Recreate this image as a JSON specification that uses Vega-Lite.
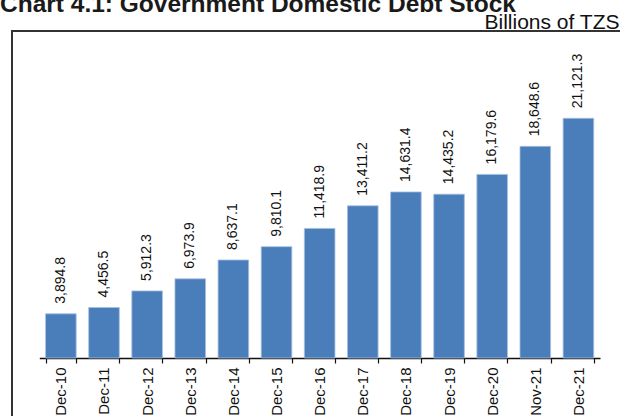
{
  "$schema": "https://vega.github.io/schema/vega-lite/v6.json",
  "autosize": {"type": "none"},
  "padding": {"left": 12, "top": 31, "right": 0, "bottom": 0},
  "width": 610,
  "height": 400,
  "background": "white",
  "title": {
    "text": "Chart 4.1: Government Domestic Debt Stock",
    "anchor": "start",
    "frame": "group",
    "dx": -12,
    "dy": 25,
    "offset": 0,
    "baseline": "alphabetic",
    "font": "Liberation Sans",
    "fontSize": 24.5,
    "fontWeight": "bold",
    "color": "#1a1a1a"
  },
  "config": {
    "view": {"stroke": "#333333", "strokeWidth": 2},
    "font": "Liberation Sans"
  },
  "data": {
    "values": [
      {"period": "Dec-10", "debt": 3894.8},
      {"period": "Dec-11", "debt": 4456.5},
      {"period": "Dec-12", "debt": 5912.3},
      {"period": "Dec-13", "debt": 6973.9},
      {"period": "Dec-14", "debt": 8637.1},
      {"period": "Dec-15", "debt": 9810.1},
      {"period": "Dec-16", "debt": 11418.9},
      {"period": "Dec-17", "debt": 13411.2},
      {"period": "Dec-18", "debt": 14631.4},
      {"period": "Dec-19", "debt": 14435.2},
      {"period": "Dec-20", "debt": 16179.6},
      {"period": "Nov-21", "debt": 18648.6},
      {"period": "Dec-21", "debt": 21121.3}
    ]
  },
  "encoding": {
    "x": {
      "field": "period",
      "type": "nominal",
      "sort": null,
      "scale": {"range": [27.3, 588], "paddingInner": 0.29, "paddingOuter": 0.145},
      "axis": {
        "title": null,
        "orient": "bottom",
        "offset": -73,
        "labelAngle": 270,
        "labelFont": "Liberation Sans",
        "labelFontSize": 15,
        "labelColor": "#111111",
        "labelPadding": 4,
        "tickSize": 5,
        "tickBand": "extent",
        "domainColor": "#111111",
        "tickColor": "#111111",
        "domainWidth": 1.5,
        "tickWidth": 1.2,
        "grid": false
      }
    },
    "y": {
      "field": "debt",
      "type": "quantitative",
      "scale": {"domain": [0, 28813], "range": [327, 0], "nice": false},
      "axis": {
        "orient": "right",
        "title": "Billions of TZS",
        "titleAngle": 0,
        "titleAlign": "right",
        "titleBaseline": "alphabetic",
        "titleX": -3,
        "titleY": -3,
        "titleFont": "Liberation Sans",
        "titleFontSize": 21,
        "titleFontWeight": "normal",
        "titleColor": "#111111",
        "labels": false,
        "ticks": false,
        "domain": false,
        "grid": false
      }
    }
  },
  "layer": [
    {"mark": {"type": "bar", "color": "#4A7EBB", "stroke": "#A9C0E0", "strokeWidth": 0.8}},
    {
      "mark": {"type": "text", "angle": 270, "align": "left", "baseline": "middle", "dx": 10, "font": "Liberation Sans", "fontSize": 14, "color": "#111111"},
      "encoding": {"text": {"field": "debt", "type": "quantitative", "format": ",.1f"}}
    }
  ]
}
